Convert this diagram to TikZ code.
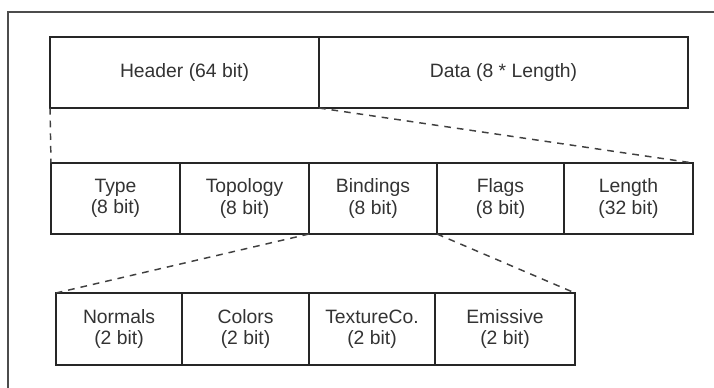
\documentclass[tikz,border=0pt]{standalone}
\usepackage{fontspec}
\setmainfont{Liberation Sans}
\begin{document}
\begin{tikzpicture}[x=0.75pt,y=-0.75pt,
  cell/.style 2 args={draw=black!85, line width=1.6pt, rectangle,
    inner sep=0pt, outer sep=0pt, align=center,
    minimum width=#1*0.75pt, minimum height=#2*0.75pt,
    text=black!80, font=\fontsize{14.5}{16}\selectfont},
  link/.style={draw=black!75, line width=1.1pt, dash pattern=on 5pt off 4.5pt}]
\useasboundingbox (0,0) rectangle (714,388);
% open frame along the top and left edges
\draw[black!70, line width=0.9pt] (714,12) -- (8,12) -- (8,388);
% packet layout
\node[cell={269}{71}] (header) at (184.5,72.5) {Header (64 bit)};
\node[cell={369}{71}] (data) at (503.5,72.5) {Data (8 * Length)};
% header fields
\node[cell={129}{71}] (type) at (115.5,198.5) {Type\\(8 bit)};
\node[cell={129}{71}] (topology) at (244.5,198.5) {Topology\\(8 bit)};
\node[cell={128}{71}] (bindings) at (373,198.5) {Bindings\\(8 bit)};
\node[cell={127}{71}] (flags) at (500.5,198.5) {Flags\\(8 bit)};
\node[cell={129}{71}] (length) at (628.5,198.5) {Length\\(32 bit)};
% binding flags
\node[cell={126}{72}] (normals) at (119,329) {Normals\\(2 bit)};
\node[cell={127}{72}] (colors) at (245.5,329) {Colors\\(2 bit)};
\node[cell={126}{72}] (texco) at (372,329) {TextureCo.\\(2 bit)};
\node[cell={140}{72}] (emissive) at (505,329) {Emissive\\(2 bit)};
% expansion guides
\draw[link] (header.south west) -- (type.north west);
\draw[link] (data.south west) -- (length.north east);
\draw[link] (bindings.south west) -- (normals.north west);
\draw[link] (bindings.south east) -- (emissive.north east);
\end{tikzpicture}
\end{document}
